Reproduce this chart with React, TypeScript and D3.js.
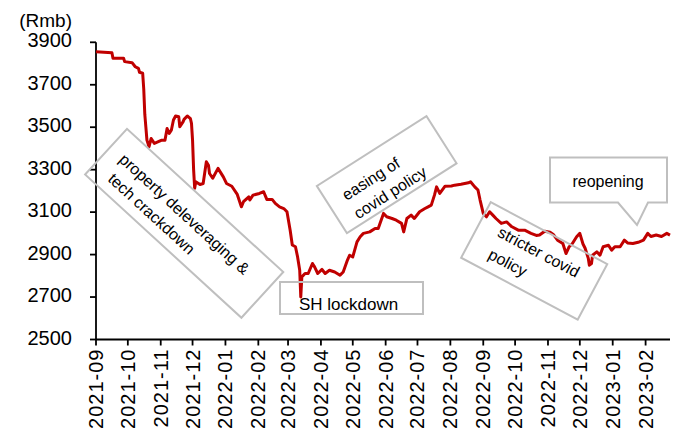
import React from "react";
import * as d3 from "d3";

const dates: string[] = [
  "2021-09-01","2021-09-16","2021-09-17","2021-09-27","2021-09-28","2021-10-05","2021-10-08","2021-10-11","2021-10-12","2021-10-15",
  "2021-10-16","2021-10-17","2021-10-18","2021-10-19","2021-10-21","2021-10-23","2021-10-26","2021-11-02","2021-11-05","2021-11-07",
  "2021-11-09","2021-11-11","2021-11-13","2021-11-15","2021-11-18","2021-11-19","2021-11-22","2021-11-23","2021-11-26","2021-11-29",
  "2021-11-30","2021-12-01","2021-12-02","2021-12-03","2021-12-04","2021-12-08","2021-12-11","2021-12-14","2021-12-16","2021-12-17",
  "2021-12-20","2021-12-25","2021-12-30","2022-01-02","2022-01-07","2022-01-12","2022-01-16","2022-01-18","2022-01-23","2022-01-24",
  "2022-01-27","2022-02-02","2022-02-06","2022-02-09","2022-02-14","2022-02-17","2022-02-21","2022-02-25","2022-02-28","2022-03-03",
  "2022-03-05","2022-03-08","2022-03-10","2022-03-12","2022-03-13","2022-03-14","2022-03-17","2022-03-20","2022-03-24","2022-03-26",
  "2022-03-29","2022-04-02","2022-04-05","2022-04-09","2022-04-14","2022-04-19","2022-04-22","2022-04-26","2022-04-28","2022-05-01",
  "2022-05-05","2022-05-08","2022-05-11","2022-05-17","2022-05-22","2022-05-25","2022-05-30","2022-06-02","2022-06-07","2022-06-11",
  "2022-06-16","2022-06-18","2022-06-21","2022-06-25","2022-06-28","2022-07-03","2022-07-08","2022-07-11","2022-07-14","2022-07-17",
  "2022-07-19","2022-07-22","2022-07-27","2022-08-02","2022-08-05","2022-08-11","2022-08-18","2022-08-20","2022-08-24","2022-08-27",
  "2022-08-29","2022-09-01","2022-09-04","2022-09-07","2022-09-10","2022-09-13","2022-09-18","2022-09-23","2022-09-28","2022-10-04",
  "2022-10-10","2022-10-16","2022-10-21","2022-10-24","2022-10-29","2022-11-03","2022-11-06","2022-11-10","2022-11-15","2022-11-18",
  "2022-11-21","2022-11-24","2022-11-28","2022-12-01","2022-12-04","2022-12-06","2022-12-09","2022-12-10","2022-12-12","2022-12-13",
  "2022-12-17","2022-12-20","2022-12-23","2022-12-28","2022-12-31","2023-01-03","2023-01-08","2023-01-12","2023-01-15","2023-01-20",
  "2023-01-25","2023-01-30","2023-02-03","2023-02-06","2023-02-11","2023-02-16","2023-02-21","2023-02-24",
];

const prices: number[] = [
  3856,3851,3825,3825,3809,3804,3785,3777,3759,3754,
  3680,3560,3500,3439,3408,3447,3424,3439,3439,3494,
  3471,3486,3534,3553,3549,3502,3525,3537,3553,3540,
  3518,3439,3300,3212,3243,3230,3235,3337,3321,3282,
  3260,3306,3266,3235,3222,3185,3125,3149,3172,3157,
  3180,3188,3196,3160,3160,3141,3125,3117,3102,3015,
  2945,2937,2889,2826,2700,2795,2811,2811,2858,2842,
  2811,2830,2811,2826,2818,2803,2818,2874,2897,2889,
  2960,2984,3000,3007,3023,3023,3094,3078,3070,3062,
  3047,3007,3070,3086,3070,3102,3117,3125,3133,3180,
  3219,3188,3222,3223,3227,3231,3238,3243,3219,3204,
  3157,3094,3078,3102,3086,3070,3047,3054,3031,3015,
  3015,3000,2990,2992,3010,3005,2995,2968,2952,2905,
  2937,2952,2984,3000,2950,2930,2882,2850,2858,2897,
  2913,2897,2937,2944,2921,2937,2937,2968,2955,2952,
  2958,2968,3000,2985,2992,2985,3000,2992,
];

const yTicks: number[] = [2500, 2700, 2900, 3100, 3300, 3500, 3700, 3900];
const unitLabel = "(Rmb)";

const annPropertyLines = ["property deleveraging &", "tech crackdown"];
const annEasingLines = ["easing of", "covid policy"];
const annStricterLines = ["stricter covid", "policy"];
const annLockdown = "SH lockdown";
const annReopening = "reopening";

const FONT = "'Liberation Sans', Arial, Helvetica, sans-serif";
const BOX = "#bfbfbf";

function RotBox({ cx, cy, w, h, angle, lines, tx, ty, lh }: any) {
  return (
    <g transform={`translate(${cx},${cy}) rotate(${angle})`}>
      <rect x={-w / 2} y={-h / 2} width={w} height={h} fill="none" stroke={BOX} strokeWidth={2} />
      {lines.map((l: string, i: number) => (
        <text key={i} x={tx[i]} y={ty + i * lh} dominantBaseline="central" fontSize={16} fill="#000" fontFamily={FONT}>
          {l}
        </text>
      ))}
    </g>
  );
}

export default function App() {
  const parse = d3.timeParse("%Y-%m-%d");
  const data = dates.map((d, i) => ({ date: parse(d) as Date, value: prices[i] }));
  const x = d3.scaleTime().domain([new Date(2021, 8, 1), new Date(2023, 1, 24)]).range([96, 670]);
  const y = d3.scaleLinear().domain([2500, 3900]).range([339.5, 42.3]);
  const line = d3.line<any>().x((d) => x(d.date)).y((d) => y(d.value));
  const months = d3.timeMonth.range(new Date(2021, 8, 1), new Date(2023, 1, 2));
  const fmt = d3.timeFormat("%Y-%m");
  const x0 = x.range()[0];
  const yBase = y(2500);

  return (
    <svg width={681} height={435} style={{ position: "absolute", left: 0, top: 0, background: "#fff" }} fontFamily={FONT}>
      {/* y axis */}
      <line x1={x0} x2={x0} y1={y(3900)} y2={yBase} stroke="#000" strokeWidth={1.8} />
      {yTicks.map((t) => (
        <g key={t}>
          <line x1={x0 - 6} x2={x0} y1={y(t)} y2={y(t)} stroke="#000" strokeWidth={1.8} />
          <text x={72} y={y(t) - 2} textAnchor="end" dominantBaseline="central" fontSize={20} fill="#000">
            {t}
          </text>
        </g>
      ))}
      <text x={72} y={27} textAnchor="end" fontSize={19} fill="#000">{unitLabel}</text>
      {/* x axis */}
      <line x1={x0} x2={x.range()[1]} y1={yBase} y2={yBase} stroke="#000" strokeWidth={1.8} />
      {months.map((m) => (
        <g key={+m}>
          <line x1={x(m)} x2={x(m)} y1={yBase} y2={yBase + 6} stroke="#000" strokeWidth={1.8} />
          <text transform={`translate(${x(m)},${yBase + 9}) rotate(-90)`} textAnchor="end" dominantBaseline="central" fontSize={20} fill="#000" letterSpacing={1}>
            {fmt(m)}
          </text>
        </g>
      ))}
      {/* series */}
      <path d={line(data) || ""} fill="none" stroke="#c00000" strokeWidth={3} strokeLinejoin="round" />
      {/* annotations */}
      <RotBox cx={184.2} cy={223.3} w={212} h={62} angle={42.5} lines={annPropertyLines} tx={[-91, -86]} ty={-7} lh={22} />
      <RotBox cx={386.7} cy={174.7} w={130} h={56} angle={-32.5} lines={annEasingLines} tx={[-48, -48]} ty={-5} lh={22} />
      <RotBox cx={534.2} cy={260.9} w={132} h={63} angle={28} lines={annStricterLines} tx={[-45, -43]} ty={-10} lh={24} />
      <rect x={280} y={282} width={143} height={32} fill="none" stroke={BOX} strokeWidth={2} />
      <text x={299} y={310} fontSize={17} fill="#000">{annLockdown}</text>
      <path d="M550,157.5 L667,157.5 L667,202.5 L648,202.5 L637,225 L618,202.5 L550,202.5 Z" fill="#fff" stroke={BOX} strokeWidth={2} />
      <text x={608} y={187} textAnchor="middle" fontSize={16} fill="#000">{annReopening}</text>
    </svg>
  );
}
